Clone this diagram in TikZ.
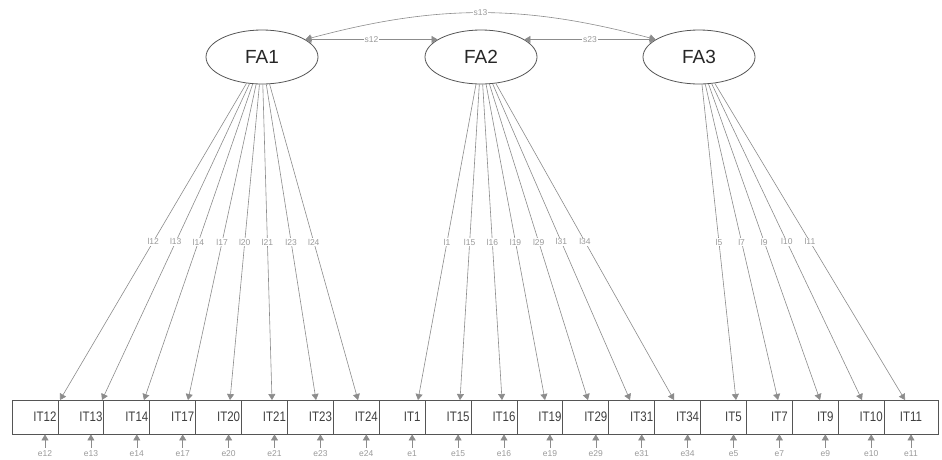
\documentclass[tikz,border=0pt]{standalone}
\usepackage{graphicx}
\usepackage{fontspec}
\setmainfont{Liberation Sans}
\usetikzlibrary{arrows.meta,shapes.geometric}
\definecolor{edgegray}{HTML}{8C8C8C}
\definecolor{labgray}{HTML}{9A9A9A}
\definecolor{boxgray}{HTML}{555555}
\begin{document}
\begin{tikzpicture}[x=1pt,y=-1pt,
  latent/.style={ellipse, draw=boxgray, line width=0.8pt, minimum width=112pt, minimum height=54pt, inner sep=0pt, font=\fontsize{19}{19}\selectfont, text=black!85},
  manifest/.style={rectangle, draw=boxgray, fill=white, line width=0.8pt, minimum height=34pt, inner sep=0pt, font=\fontsize{11.5}{12}\selectfont, text=black!75},
  edge/.style={draw=edgegray, line width=0.6pt, -{Triangle[length=6pt,width=7pt]}},
  cov/.style={draw=edgegray, line width=0.6pt, {Triangle[length=6pt,width=7pt]}-{Triangle[length=6pt,width=7pt]}},
  elab/.style={font=\fontsize{8.5}{9}\selectfont, text=labgray, fill=white, inner sep=1pt},
  errlab/.style={font=\fontsize{8.5}{9}\selectfont, text=labgray, inner sep=2.5pt}]
\useasboundingbox[fill=white] (0,0) rectangle (942,459);

% latent factors
\node[latent] (FA1) at (262,57) {FA1};
\node[latent] (FA2) at (481,57) {FA2};
\node[latent] (FA3) at (699,57) {FA3};

% covariances
\draw[cov] (FA1.22) -- node[elab]{s12} (FA2.158);
\draw[cov] (FA2.22) -- node[elab]{s23} (FA3.158);
\draw[cov] (FA1.22) to[bend left=15] node[elab]{s13} (FA3.158);

% observed items (boxes)
\foreach \i/\fa/\tx [count=\k] in {12/FA1/60, 13/FA1/102, 14/FA1/144, 17/FA1/188, 20/FA1/230, 21/FA1/272, 23/FA1/316, 24/FA1/358, 1/FA2/418, 15/FA2/460, 16/FA2/502, 19/FA2/545, 29/FA2/588, 31/FA2/630, 34/FA2/674, 5/FA3/736, 7/FA3/778, 9/FA3/820, 10/FA3/862, 11/FA3/905}{
  \pgfmathsetmacro\cx{ifthenelse(\k==20,911,45+45.9*(\k-1))}
  \pgfmathsetmacro\bw{ifthenelse(\k==20,54,66)}
  \node[manifest, minimum width=\bw pt] (b\k) at (\cx,417) {\scalebox{1}[1.2]{IT\i}};
}

% loadings and residuals
\foreach \i/\fa/\tx [count=\k] in {12/FA1/60, 13/FA1/102, 14/FA1/144, 17/FA1/188, 20/FA1/230, 21/FA1/272, 23/FA1/316, 24/FA1/358, 1/FA2/418, 15/FA2/460, 16/FA2/502, 19/FA2/545, 29/FA2/588, 31/FA2/630, 34/FA2/674, 5/FA3/736, 7/FA3/778, 9/FA3/820, 10/FA3/862, 11/FA3/905}{
  \coordinate (t\k) at (\tx,400);
  \draw[edge] (\fa) -- node[elab, pos=0.5]{l\i} (t\k);
  \path (b\k.south) ++(0,19) node[errlab] (e\k) {e\i};
  \draw[edge] (e\k) -- (b\k.south);
}
\end{tikzpicture}
\end{document}
